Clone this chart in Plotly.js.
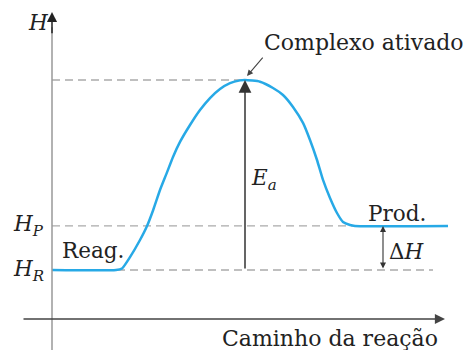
<!DOCTYPE html>
<html>
<head>
<meta charset="utf-8">
<script src="https://cdn.plot.ly/plotly-3.0.1.min.js"></script>
<style>html,body{margin:0;padding:0;background:#fff;}#chart{width:470px;height:350px;}</style>
</head>
<body>
<div id="chart"></div>
<script>
// Reaction path (x = reaction coordinate, H = enthalpy, arbitrary units)
const pathX = [0, 16, 17.5, 19.5, 22, 23.7, 25.3, 27, 28.7, 30.25, 32, 34.5, 37, 39.5, 42, 44.5, 47, 48.25,
               52, 55.25, 57.75, 60.25, 62.75, 64.5, 66.25, 67.75, 69.5, 71.25, 72.75, 74.5, 75.75, 99];
const pathH = [0, 0, 0.8, 6.8, 15.8, 22.9, 31.6, 42.1, 51.1, 59.5, 67.4, 76.3, 84.2, 90.5, 95.3, 98.4, 99.8, 100,
               99.1, 95.8, 92.1, 85.8, 77.4, 68.4, 57.9, 47.4, 37.9, 30, 25.3, 23.7, 23.2, 23.2];

// Energy levels
const H_R = 0;        // reactants
const H_P = 23.2;     // products
const H_TS = 100;     // activated complex
const xTS = 48.25;    // position of activated complex
const xProd = 75.75;  // start of products plateau
const xDeltaH = 82.75;
const xHREnd = 95.25;

// Axis extents
const xAxisY = -25.8, xAxisStart = -7.5, xAxisEnd = 98.25;
const yAxisBottom = -42.1, yAxisTop = 135.8;

// Labels
const labels = {
  H: '<i>H</i>', HP: '<i>H</i><sub><i>P</i></sub>', HR: '<i>H</i><sub><i>R</i></sub>',
  reag: 'Reag.', prod: 'Prod.', ea: '<i>E</i><sub><i>a</i></sub>',
  dh: 'Δ<i>H</i>', complexo: 'Complexo ativado', caminho: 'Caminho da reação'
};

function mkFont(size) { return {family: 'DejaVu Serif', size: size || 21.5, color: '#222'}; }
const dashColor = '#aaaaaa';

const traces = [
  {x: [0, xTS], y: [H_TS, H_TS], mode: 'lines', line: {color: dashColor, width: 1.3, dash: '8px,5px'}, hoverinfo: 'skip'},
  {x: [0, xProd], y: [H_P, H_P], mode: 'lines', line: {color: dashColor, width: 1.3, dash: '8px,5px'}, hoverinfo: 'skip'},
  {x: [0, xHREnd], y: [H_R, H_R], mode: 'lines', line: {color: dashColor, width: 1.3, dash: '8px,5px'}, hoverinfo: 'skip'},
  {x: pathX, y: pathH, mode: 'lines', line: {color: '#27a9e6', width: 2.5, shape: 'spline', smoothing: 0.5}, hoverinfo: 'skip'}
];

function arrow(x, y, ax, ay, opts) {
  return Object.assign({x: x, y: y, ax: ax, ay: ay, xref: 'x', yref: 'y', axref: 'x', ayref: 'y',
    text: '', showarrow: true, arrowhead: 2, standoff: 0, startstandoff: 0}, opts);
}
function label(x, y, text, opts, size) {
  return Object.assign({x: x, y: y, xref: 'x', yref: 'y', text: text, showarrow: false, font: mkFont(size)}, opts || {});
}

const annotations = [
  arrow(0, yAxisTop, 0, yAxisTop - 12, {arrowcolor: '#222', arrowwidth: 1.5, arrowsize: 1.35}),
  arrow(xAxisEnd, xAxisY, xAxisStart, xAxisY, {arrowcolor: '#444', arrowwidth: 1.5, arrowsize: 1.35}),
  arrow(xTS, H_TS, xTS, H_R, {arrowcolor: '#333', arrowwidth: 1.5, arrowsize: 1.7}),
  arrow(xDeltaH, H_P, xDeltaH, H_R, {arrowcolor: '#333', arrowwidth: 1.1, arrowsize: 1.1, arrowside: 'end+start', startarrowhead: 2, startarrowsize: 1.1}),
  arrow(48.75, 102.1, 53, 112.6, {arrowcolor: '#444', arrowwidth: 1.1, arrowsize: 1.1}),
  label(-3.5, 130.5, labels.H),
  label(-1.5, H_P, labels.HP, {xanchor: 'right'}),
  label(-1.5, H_R, labels.HR, {xanchor: 'right'}),
  label(10.25, 10.5, labels.reag),
  label(86.25, 29.5, labels.prod),
  label(88.75, 9.5, labels.dh),
  label(53, 47.4, labels.ea),
  label(78, 119.5, labels.complexo, null, 22),
  label(69.5, -36.3, labels.caminho, null, 22)
];

const shapes = [
  {type: 'line', xref: 'x', yref: 'y', x0: 0, x1: 0, y0: yAxisBottom, y1: yAxisTop - 8, line: {color: '#999', width: 1.5}}
];

const layout = {
  width: 470, height: 350,
  margin: {l: 0, r: 0, t: 0, b: 0},
  paper_bgcolor: '#fff', plot_bgcolor: '#fff',
  showlegend: false,
  font: mkFont(21.5),
  xaxis: {range: [-13, 104.5], visible: false, fixedrange: true},
  yaxis: {range: [-42.1, 142.1], visible: false, fixedrange: true},
  annotations: annotations,
  shapes: shapes
};

Plotly.newPlot('chart', traces, layout, {staticPlot: true, displayModeBar: false});
</script>
</body>
</html>
